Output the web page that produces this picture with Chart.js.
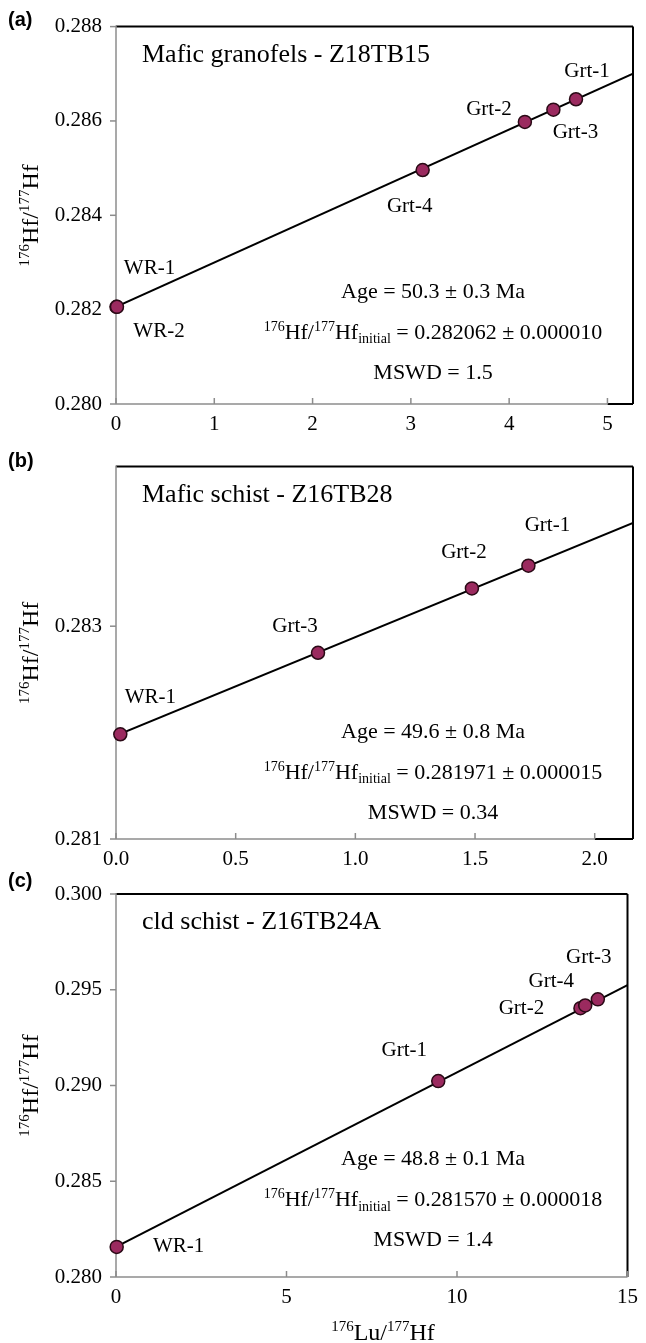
<!DOCTYPE html>
<html>
<head>
<meta charset="utf-8">
<script src="https://cdn.jsdelivr.net/npm/chart.js@4.4.1/dist/chart.umd.min.js"></script>
<style>
  body { margin: 0; background: #fff; }
  #wrap { position: relative; width: 646px; height: 1343px; }
  canvas { position: absolute; left: 0; }
</style>
</head>
<body>
<div id="wrap">
  <canvas id="chartA" width="646" height="440" style="top:0px"></canvas>
  <canvas id="chartB" width="646" height="440" style="top:440px"></canvas>
  <canvas id="chartC" width="646" height="477" style="top:866px"></canvas>
</div>
<script>
// (a) Mafic granofels - Z18TB15
const samplesA = ['WR-1', 'WR-2', 'Grt-4', 'Grt-2', 'Grt-3', 'Grt-1'];
const luHfA = [0.005, 0.010, 3.12, 4.16, 4.45, 4.68];
const hfHfA = [0.28206, 0.28206, 0.28496, 0.28598, 0.28624, 0.28646];
const isoXA = [0, 5.26];
const isoYA = [0.282062, 0.28700];
const xTicksA = [0, 1, 2, 3, 4, 5];
const yTicksA = [0.280, 0.282, 0.284, 0.286, 0.288];

// (b) Mafic schist - Z16TB28
const samplesB = ['WR-1', 'Grt-3', 'Grt-2', 'Grt-1'];
const luHfB = [0.018, 0.844, 1.487, 1.723];
const hfHfB = [0.281984, 0.28275, 0.283355, 0.283569];
const isoXB = [0, 2.16];
const isoYB = [0.281971, 0.28397];
const xTicksB = [0.0, 0.5, 1.0, 1.5, 2.0];
const yTicksB = [0.281, 0.283];

// (c) cld schist - Z16TB24A
const samplesC = ['WR-1', 'Grt-1', 'Grt-2', 'Grt-4', 'Grt-3'];
const luHfC = [0.02, 9.45, 13.62, 13.76, 14.13];
const hfHfC = [0.28157, 0.29023, 0.29404, 0.29418, 0.29450];
const isoXC = [0, 15];
const isoYC = [0.28157, 0.29524];
const xTicksC = [0, 5, 10, 15];
const yTicksC = [0.280, 0.285, 0.290, 0.295, 0.300];

// label offsets from each point (px)
const offsA = [[33, -38], [42, 25], [-13, 36], [-36, -12], [22, 23], [11, -28]];
const offsB = [[30, -37], [-23, -26], [-8, -36], [19, -40]];
const offsC = [[62, 0], [-34, -31], [-59, 0], [-34, -24], [-9, -42]];

const SERIF = '"Liberation Serif", "Times New Roman", serif';
const GREY = '#8c8c8c';

function drawRich(ctx, parts, x, y, size, align) {
  const small = Math.round(size * 0.64);
  let w = 0;
  parts.forEach(pt => {
    ctx.font = (pt[1] ? small : size) + 'px ' + SERIF;
    w += ctx.measureText(pt[0]).width;
  });
  let cx = align === 'center' ? x - w / 2 : x;
  ctx.textAlign = 'left';
  ctx.textBaseline = 'alphabetic';
  parts.forEach(pt => {
    ctx.font = (pt[1] ? small : size) + 'px ' + SERIF;
    const dy = pt[1] === 'sup' ? -size * 0.36 : pt[1] === 'sub' ? size * 0.22 : 0;
    ctx.fillText(pt[0], cx, y + dy);
    cx += ctx.measureText(pt[0]).width;
  });
}

const hfLabel = [['176', 'sup'], ['Hf/'], ['177', 'sup'], ['Hf']];

function decor(p) {
  return {
    id: 'decor',
    beforeDatasetsDraw(chart) {
      const { ctx, chartArea: a, scales } = chart;
      const line = (x1, y1, x2, y2) => { ctx.beginPath(); ctx.moveTo(x1, y1); ctx.lineTo(x2, y2); ctx.stroke(); };
      const lastX = scales.x.getPixelForValue(p.xTicks[p.xTicks.length - 1]);
      ctx.save();
      // plot border (top, right, bottom beyond the axis)
      ctx.strokeStyle = '#000';
      ctx.lineWidth = 2;
      line(a.left, a.top, a.right, a.top);
      line(a.right, a.top, a.right, a.bottom);
      if (lastX < a.right - 1) line(lastX, a.bottom, a.right, a.bottom);
      // grey axes
      ctx.strokeStyle = GREY;
      ctx.lineWidth = 1.5;
      line(a.left, a.top - 1, a.left, a.bottom);
      line(a.left, a.bottom, lastX, a.bottom);
      p.yTicks.forEach(v => { const py = scales.y.getPixelForValue(v); line(a.left - 6, py, a.left, py); });
      p.xTicks.forEach(v => { const px = scales.x.getPixelForValue(v); line(px, a.bottom, px, a.bottom - 6); });
      ctx.restore();
    },
    afterDatasetsDraw(chart) {
      const { ctx, chartArea: a, scales } = chart;
      ctx.save();
      ctx.fillStyle = '#000';
      // point labels
      ctx.font = '21px ' + SERIF;
      ctx.textAlign = 'center';
      ctx.textBaseline = 'middle';
      p.names.forEach((n, i) => {
        const px = scales.x.getPixelForValue(p.x[i]);
        const py = scales.y.getPixelForValue(p.y[i]);
        ctx.fillText(n, px + p.offs[i][0], py + p.offs[i][1]);
      });
      // sample title
      ctx.font = '26px ' + SERIF;
      ctx.textAlign = 'left';
      ctx.textBaseline = 'alphabetic';
      ctx.fillText(p.title, 142, a.top + 35);
      // isochron results
      drawRich(ctx, [[p.age]], 433, a.top + 271, 22, 'center');
      drawRich(ctx, hfLabel.concat([['initial', 'sub'], [' = ' + p.initial]]), 433, a.top + 312, 22, 'center');
      drawRich(ctx, [[p.mswd]], 433, a.top + 352, 22, 'center');
      // panel letter
      ctx.font = 'bold 20px "Liberation Sans", Arial, sans-serif';
      ctx.textAlign = 'left';
      ctx.textBaseline = 'middle';
      ctx.fillText(p.letter, 8, p.letterY);
      // y-axis title
      ctx.save();
      ctx.translate(30, (a.top + a.bottom) / 2);
      ctx.rotate(-Math.PI / 2);
      drawRich(ctx, hfLabel, 0, 8, 24, 'center');
      ctx.restore();
      // x-axis title
      if (p.xTitle) {
        drawRich(ctx, [['176', 'sup'], ['Lu/'], ['177', 'sup'], ['Hf']], 383, p.xTitleY, 24, 'center');
      }
      ctx.restore();
    }
  };
}

function makeChart(p) {
  const pts = p.x.map((v, i) => ({ x: v, y: p.y[i] }));
  const iso = p.isoX.map((v, i) => ({ x: v, y: p.isoY[i] }));
  const tickFont = { family: SERIF, size: 21 };
  return new Chart(document.getElementById(p.id), {
    type: 'scatter',
    data: {
      datasets: [
        {
          data: pts, pointRadius: 6.5, pointHoverRadius: 6.5,
          pointBackgroundColor: '#9b2a5f', pointBorderColor: '#2a0a16', pointBorderWidth: 1.5,
          order: 0, clip: false
        },
        {
          data: iso, showLine: true, borderColor: '#000', borderWidth: 2,
          pointRadius: 0, order: 1
        }
      ]
    },
    options: {
      responsive: false,
      animation: false,
      devicePixelRatio: 1,
      layout: { padding: { top: p.padTop, right: 13, left: 0, bottom: 0 } },
      plugins: { legend: { display: false }, tooltip: { enabled: false } },
      scales: {
        x: {
          type: 'linear', min: p.xMin, max: p.xMax,
          grid: { display: false, drawTicks: false },
          border: { display: false },
          afterBuildTicks: s => { s.ticks = p.xTicks.map(v => ({ value: v })); },
          afterFit: s => { s.height = p.xAxisH; },
          ticks: {
            padding: 8, color: '#000', font: tickFont, maxRotation: 0, autoSkip: false,
            callback: v => Number(v).toFixed(p.xDec)
          }
        },
        y: {
          type: 'linear', min: p.yMin, max: p.yMax,
          grid: { display: false, drawTicks: false },
          border: { display: false },
          afterBuildTicks: s => { s.ticks = p.yTicks.map(v => ({ value: v })); },
          afterFit: s => { s.width = 116; },
          ticks: {
            padding: 14, color: '#000', font: tickFont, autoSkip: false,
            callback: v => Number(v).toFixed(3)
          }
        }
      }
    },
    plugins: [decor(p)]
  });
}

makeChart({
  id: 'chartA', letter: '(a)', letterY: 20, padTop: 22, xAxisH: 36,
  names: samplesA, x: luHfA, y: hfHfA, offs: offsA, isoX: isoXA, isoY: isoYA,
  xMin: 0, xMax: 5.26, yMin: 0.280, yMax: 0.288, xTicks: xTicksA, yTicks: yTicksA, xDec: 0,
  title: 'Mafic granofels - Z18TB15',
  age: 'Age = 50.3 ± 0.3 Ma', initial: '0.282062 ± 0.000010', mswd: 'MSWD = 1.5'
});

makeChart({
  id: 'chartB', letter: '(b)', letterY: 21, padTop: 18, xAxisH: 41,
  names: samplesB, x: luHfB, y: hfHfB, offs: offsB, isoX: isoXB, isoY: isoYB,
  xMin: 0, xMax: 2.16, yMin: 0.281, yMax: 0.2845, xTicks: xTicksB, yTicks: yTicksB, xDec: 1,
  title: 'Mafic schist - Z16TB28',
  age: 'Age = 49.6 ± 0.8 Ma', initial: '0.281971 ± 0.000015', mswd: 'MSWD = 0.34'
});

makeChart({
  id: 'chartC', letter: '(c)', letterY: 15, padTop: 28, xAxisH: 66,
  names: samplesC, x: luHfC, y: hfHfC, offs: offsC, isoX: isoXC, isoY: isoYC,
  xMin: 0, xMax: 15, yMin: 0.280, yMax: 0.300, xTicks: xTicksC, yTicks: yTicksC, xDec: 0,
  title: 'cld schist - Z16TB24A',
  age: 'Age = 48.8 ± 0.1 Ma', initial: '0.281570 ± 0.000018', mswd: 'MSWD = 1.4',
  xTitle: true, xTitleY: 474
});
</script>
</body>
</html>
